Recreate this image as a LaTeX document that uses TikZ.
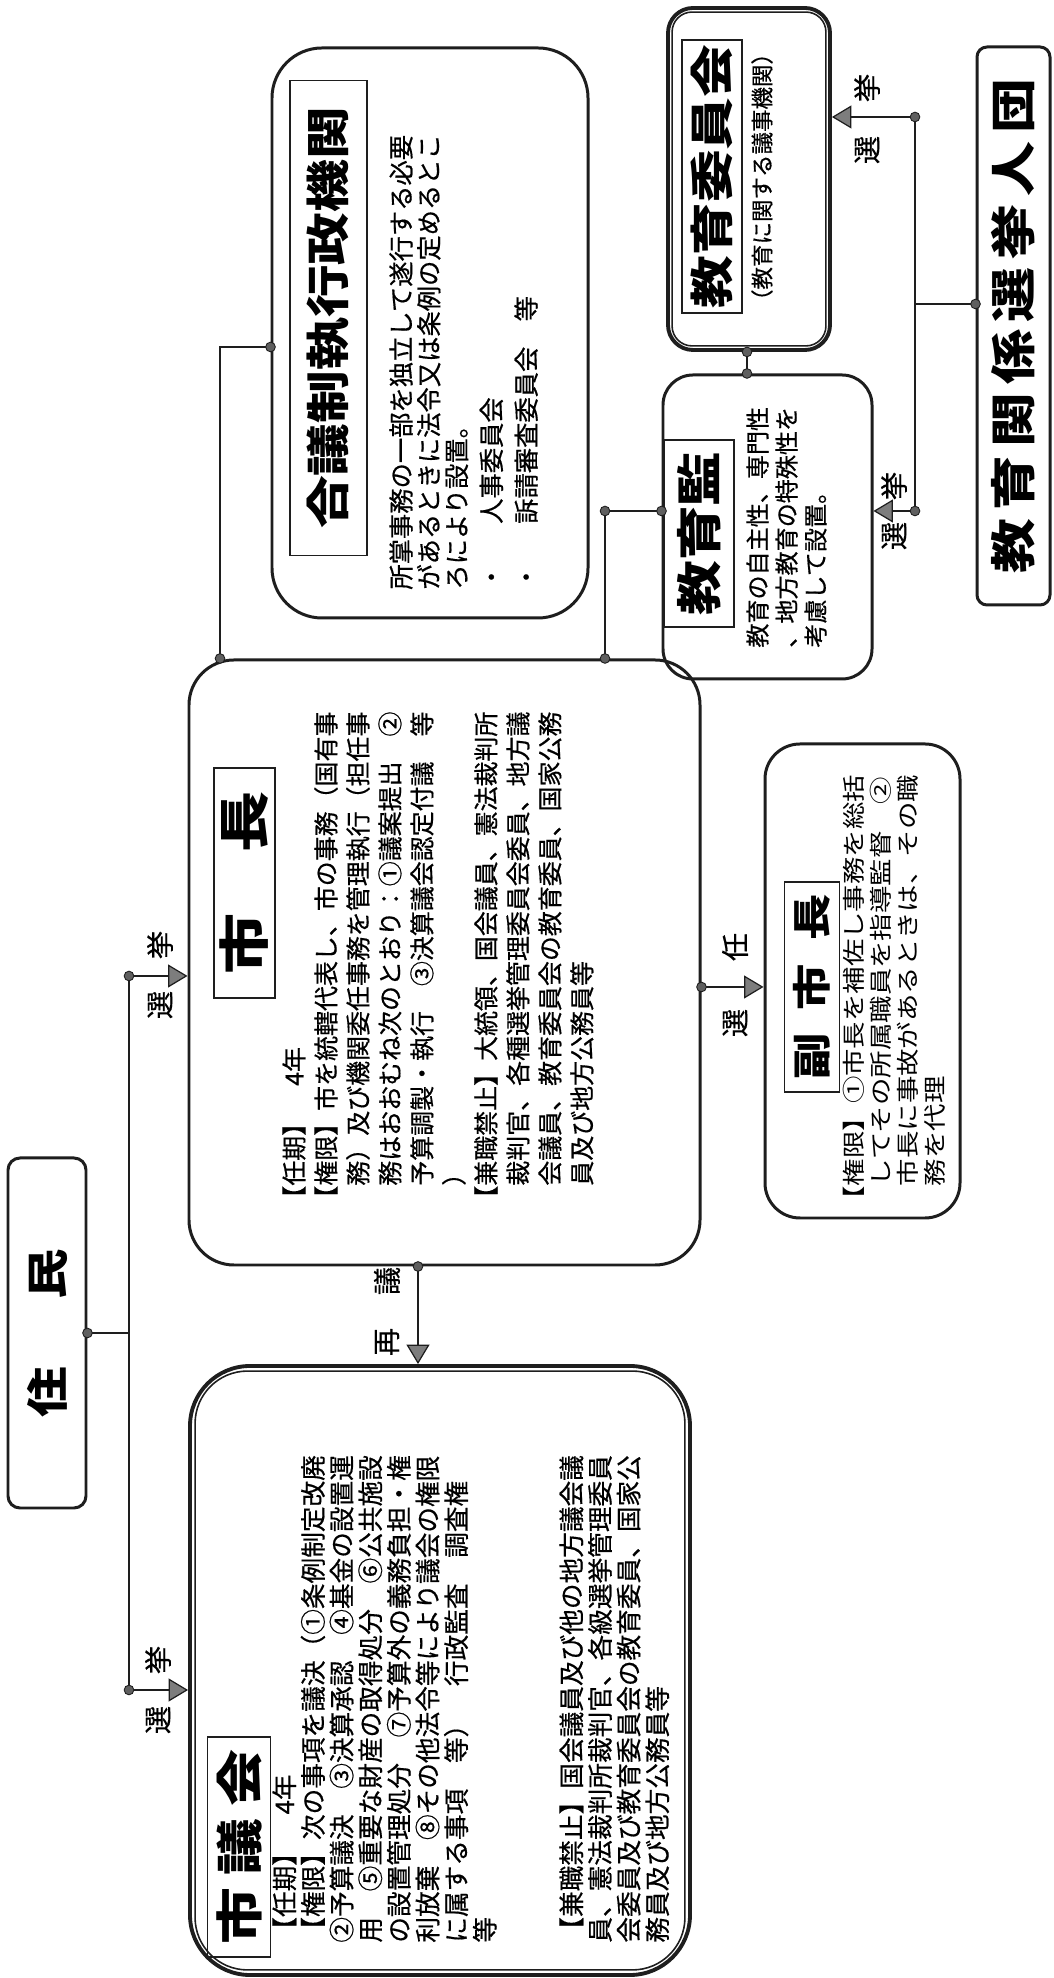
\documentclass[tikz,border=0pt]{standalone}
\usepackage{fontspec}
\setmainfont[FakeBold=0.5]{Noto Sans CJK JP}
\newfontfamily\headfont[FakeStretch=1.2]{Noto Sans CJK JP}
\usetikzlibrary{positioning, arrows.meta, calc}
\definecolor{inkline}{RGB}{30,30,30}
\definecolor{tipgray}{RGB}{125,125,125}
\definecolor{jointgray}{RGB}{95,95,95}

\begin{document}
\begin{tikzpicture}[
    x=0.2mm, y=-0.2mm, rotate=90, transform shape,
    organ/.style={draw=inkline, line width=1.7pt, rounded corners=#1, inner sep=0pt},
    headbox/.style={draw=inkline, line width=0.9pt, inner sep=0pt},
    bodytext/.style={inner sep=0pt, align=left, anchor=north west},
    tag/.style={inner sep=0pt, font=\fontsize{16pt}{16pt}\selectfont},
    link/.style={draw=inkline, line width=1.5pt},
    arrow/.style={link, -{Triangle[length=11pt, width=13pt, fill=tipgray, line width=0.7pt]}},
    joint/.style={circle, fill=jointgray, draw=inkline, line width=0.5pt, inner sep=0pt, minimum size=5.5pt}
]
    \useasboundingbox (0,0) rectangle (1978,1053);
    \fill[white] (0,0) rectangle (1978,1053);

    % Residents
    \node[organ=2.4mm, minimum width=70mm, minimum height=15.6mm,
          font=\fontsize{24pt}{24pt}\headfont\bfseries] (jumin) at (645,47) {住\hspace{1.6em}民};

    % City council (double border)
    \node[organ=12mm, line width=2.2pt, minimum width=121.8mm, minimum height=100mm] (council) at (307.5,440) {};
    \draw[inkline, line width=0.9pt, rounded corners=10.5mm]
        ($(council.south west)+(7,-7)$) rectangle ($(council.north east)+(-7,7)$);
    \node[headbox, minimum width=44mm, minimum height=12.6mm,
          font=\fontsize{27pt}{27pt}\headfont\bfseries] (councilhead) at (131,239)
          {市\hspace{2.5mm}議\hspace{2.5mm}会};
    \node[bodytext, font=\fontsize{14.6pt}{16.3pt}\selectfont] (counciltext) at (35,272) {%
        【任期】　4年\\
        【権限】次の事項を議決（①条例制定改廃\\
        ②予算議決　③決算承認　④基金の設置運\\
        用　⑤重要な財産の取得処分　⑥公共施設\\
        の設置管理処分　⑦予算外の義務負担・権\\
        利放棄　⑧その他法令等により議会の権限\\
        に属する事項　等）　行政監査　調査権\\
        等};
    \node[bodytext, font=\fontsize{14.6pt}{16.3pt}\selectfont] (councilban) at (35,559) {%
        【兼職禁止】国会議員及び他の地方議会議\\
        員、憲法裁判所裁判官、各級選挙管理委員\\
        会委員及び教育委員会の教育委員、国家公\\
        務員及び地方公務員等};

    % Mayor
    \node[organ=9mm, minimum width=121mm, minimum height=102.2mm] (mayor) at (1015.5,444.5) {};
    \node[headbox, minimum width=46mm, minimum height=12.2mm,
          font=\fontsize{29pt}{29pt}\headfont\bfseries] (mayorhead) at (1095,244.5) {市　長};
    \node[bodytext, font=\fontsize{14.2pt}{18.2pt}\selectfont] (mayortext) at (767,282) {%
        【任期】　4年\\
        【権限】市を統轄代表し、市の事務（国有事\\
        　務）及び機関委任事務を管理執行（担任事\\
        　務はおおむね次のとおり：①議案提出　②\\
        　予算調製・執行　③決算議会認定付議　等\\
        　）\\
        【兼職禁止】大統領、国会議員、憲法裁判所\\
        　裁判官、各種選挙管理委員会委員、地方議\\
        　会議員、教育委員会の教育委員、国家公務\\
        　員及び地方公務員等};

    % Deputy mayor
    \node[organ=7mm, minimum width=94.8mm, minimum height=39mm] (deputy) at (997,862.5) {};
    \node[headbox, minimum width=42mm, minimum height=11mm,
          font=\fontsize{22pt}{22pt}\headfont\bfseries] (deputyhead) at (991,812)
          {副\hspace{0.6em}市\hspace{0.6em}長};
    \node[bodytext, font=\fontsize{13pt}{15.4pt}\headfont] (deputytext) at (764,843) {%
        【権限】①市長を補佐し事務を総括\\
        　してその所属職員を指導監督　②\\
        　市長に事故があるときは、その職\\
        　務を代理};

    % Administrative commissions
    \node[organ=10mm, minimum width=114mm, minimum height=63.2mm] (commission) at (1645,430) {};
    \node[headbox, minimum width=95mm, minimum height=15.4mm,
          font=\fontsize{25pt}{25pt}\headfont\bfseries] (commissionhead) at (1660,328.5) {合議制執行政機関};
    \node[bodytext, font=\fontsize{14.4pt}{15.8pt}\selectfont] (commissiontext) at (1388,389) {%
        所掌事務の一部を独立して遂行する必要\\
        があるときに法令又は条例の定めるとこ\\
        ろにより設置。\\[4pt]
        ・\hspace{1.6em}人事委員会\\[4pt]
        ・\hspace{1.6em}訴請審査委員会　等};

    % Board of education (double border)
    \node[organ=5mm, line width=2.2pt, minimum width=68.4mm, minimum height=32.4mm] (board) at (1799,749) {};
    \draw[inkline, line width=0.9pt, rounded corners=4mm]
        ($(board.south west)+(6,-6)$) rectangle ($(board.north east)+(-6,6)$);
    \node[headbox, minimum width=54.6mm, minimum height=12mm,
          font=\fontsize{25pt}{25pt}\headfont\bfseries] (boardhead) at (1801.5,712) {教育委員会};
    \node[inner sep=0pt, font=\fontsize{12.8pt}{12.8pt}\selectfont] (boardsub) at (1801,762) {（教育に関する議事機関）};

    % Superintendent of education
    \node[organ=6mm, minimum width=60.8mm, minimum height=41.8mm] (superv) at (1451,767.5) {};
    \node[headbox, minimum width=37.4mm, minimum height=14mm,
          font=\fontsize{26pt}{26pt}\headfont\bfseries] (supervhead) at (1444.5,699) {教育監};
    \node[bodytext, font=\fontsize{13.7pt}{16.5pt}\selectfont] (supervtext) at (1330,746) {%
        教育の自主性、専門性\\
        、地方教育の特殊性を\\
        考慮して設置。};

    % Education electors
    \node[organ=2mm, minimum width=111.6mm, minimum height=14.6mm,
          font=\fontsize{26pt}{26pt}\headfont\bfseries] (electors) at (1652,1013.5)
          {教\hspace{1.6mm}育\hspace{1.6mm}関\hspace{1.6mm}係\hspace{1.6mm}選\hspace{1.6mm}挙\hspace{1.6mm}人\hspace{1.6mm}団};

    % Residents elect council and mayor
    \coordinate (voteL) at (288,129);
    \coordinate (voteR) at (1002,129);
    \draw[link] (jumin.south) -- (jumin.south |- voteL);
    \draw[link] (voteL) -- (voteR);
    \draw[arrow] (voteL) -- (voteL |- council.north);
    \draw[arrow] (voteR) -- (voteR |- mayor.north);
    \node[tag] (voteL1) at (258,158) {選};
    \node[tag] (voteL2) at (318,158) {挙};
    \node[tag] (voteR1) at (973,160) {選};
    \node[tag] (voteR2) at (1033,160) {挙};

    % Reconsideration
    \coordinate (veto) at (660,418);
    \draw[arrow] (mayor.west |- veto) -- (council.east |- veto);
    \node[tag] (veto1) at (636,387) {再};
    \node[tag] (veto2) at (697,387) {議};

    % Appointment of deputy
    \coordinate (appoint) at (991,734);
    \draw[arrow] (mayor.south -| appoint) -- (deputy.north -| appoint);
    \node[tag] (appoint1) at (955,735) {選};
    \node[tag] (appoint2) at (1031,735) {任};

    % Mayor to commissions and superintendent
    \coordinate (comK) at (1631,220);
    \coordinate (supK) at (1467,605);
    \draw[link] (mayor.east |- comK) -- (comK) -- (comK |- commission.north);
    \draw[link] (mayor.east |- supK) -- (supK) -- (supK |- superv.north);
    \coordinate (bsK) at (1615,747);
    \draw[link] (superv.east |- bsK) -- (board.west |- bsK);

    % Electors elect board and superintendent
    \coordinate (elecL) at (1467,915);
    \coordinate (elecR) at (1861,915);
    \coordinate (elecM) at (1674,915);
    \draw[link] (elecM |- electors.north) -- (elecM);
    \draw[link] (elecL) -- (elecR);
    \draw[arrow] (elecL) -- (elecL |- superv.south);
    \draw[arrow] (elecR) -- (elecR |- board.south);
    \node[tag] (elecL1) at (1442,894) {選};
    \node[tag] (elecL2) at (1492,894) {挙};
    \node[tag] (elecR1) at (1828,867) {選};
    \node[tag] (elecR2) at (1890,867) {挙};

    % Joints
    \node[joint] (j1) at (jumin.south) {};
    \node[joint] (j2) at (voteL) {};
    \node[joint] (j3) at (voteR) {};
    \node[joint] (j4) at (mayor.west |- veto) {};
    \node[joint] (j5) at (mayor.south -| appoint) {};
    \node[joint] (j6) at (mayor.east |- comK) {};
    \node[joint] (j7) at (comK |- commission.north) {};
    \node[joint] (j8) at (mayor.east |- supK) {};
    \node[joint] (j9) at (supK) {};
    \node[joint] (j10) at (supK |- superv.north) {};
    \node[joint] (j11) at (superv.east |- bsK) {};
    \node[joint] (j12) at (board.west |- bsK) {};
    \node[joint] (j13) at (elecM |- electors.north) {};
    \node[joint] (j14) at (elecL) {};
    \node[joint] (j15) at (elecR) {};
\end{tikzpicture}
\end{document}
